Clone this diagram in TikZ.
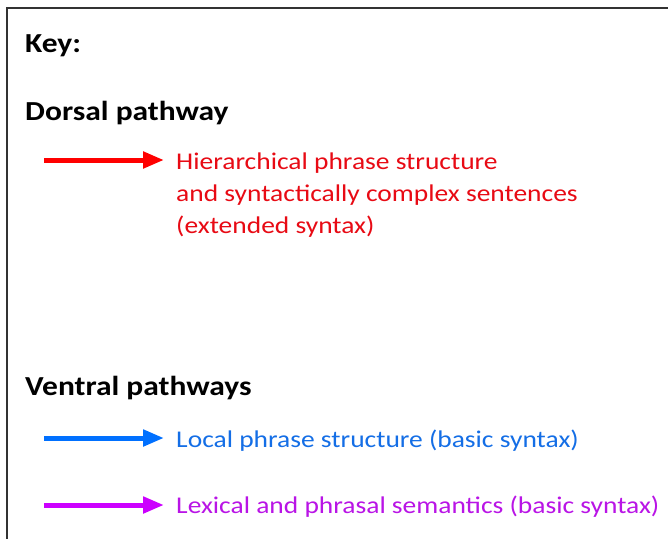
\documentclass[tikz,border=0pt]{standalone}
\usepackage{fontspec}
\setmainfont{Carlito}
\usetikzlibrary{arrows.meta}
\definecolor{dred}{RGB}{255,0,0}
\definecolor{dredtext}{RGB}{232,10,20}
\definecolor{vblue}{RGB}{0,112,255}
\definecolor{vbluetext}{RGB}{20,110,230}
\definecolor{vpurple}{RGB}{204,0,255}
\definecolor{vpurpletext}{RGB}{185,20,230}
\definecolor{frame}{RGB}{50,50,50}
\tikzset{
  heading/.style={anchor=base west, inner sep=0pt, xscale=1.145, transform shape,
    font=\fontsize{27.5}{32}\selectfont\bfseries},
  keytext/.style={anchor=base west, inner sep=0pt, xscale=1.145, transform shape, align=left,
    font=\fontsize{24}{32}\selectfont},
  keyarrow/.style={line width=5pt, -{Triangle[length=21pt,width=16pt]}},
}
\begin{document}
\begin{tikzpicture}[x=1pt,y=1pt]
\useasboundingbox (0,0) rectangle (668,-538);
\fill[white] (0,0) rectangle (668,-538);
\draw[frame, line width=2pt] (7,-7.5) rectangle (690,-560);
\node[heading] (key) at (25,-52) {Key:};
\node[heading] (dorsal) at (25,-120) {Dorsal pathway};
\node[heading] (ventral) at (25,-395) {Ventral pathways};
\coordinate (r0) at (44,-160);
\coordinate (r1) at (164,-160);
\draw[keyarrow, dred] (r0) -- (r1);
\node[keytext, text=dredtext] (rtext) at (176,-233) {Hierarchical phrase structure\\and syntactically complex sentences\\(extended syntax)};
\coordinate (b0) at (44,-438);
\coordinate (b1) at (164,-438);
\draw[keyarrow, vblue] (b0) -- (b1);
\node[keytext, text=vbluetext] (btext) at (176,-447) {Local phrase structure (basic syntax)};
\coordinate (p0) at (44,-505);
\coordinate (p1) at (164,-505);
\draw[keyarrow, vpurple] (p0) -- (p1);
\node[keytext, text=vpurpletext] (ptext) at (176,-513) {Lexical and phrasal semantics (basic syntax)};
\end{tikzpicture}
\end{document}
